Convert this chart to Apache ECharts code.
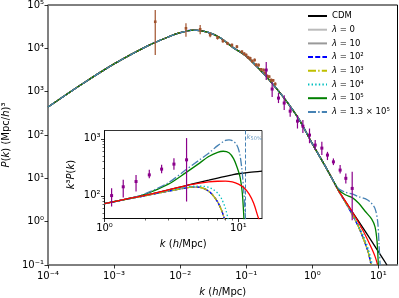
<!DOCTYPE html>
<html><head><meta charset="utf-8">
<script src="https://cdn.jsdelivr.net/npm/echarts@6/dist/echarts.min.js"></script>
<style>html,body{margin:0;padding:0;background:#fff}#c{width:399px;height:298px}</style>
</head><body><div id="c"></div>
<script>
const FONT = 'DejaVu Sans';
// ---------- main panel: P(k) ----------
const kMainCommon = [0.0001, 0.000316, 0.001, 0.00316, 0.00631, 0.01, 0.0158, 0.0251, 0.0398, 0.0631, 0.1, 0.158, 0.251, 0.398, 0.631, 1.0, 1.585, 2.0];
const pMainCommon = [442, 1445, 4365, 11220, 17780, 22910, 26300, 23990, 17780, 10470, 6610, 3310, 1514, 631, 229, 63.1, 18.6, 9.77];
const kTailCDM = [2.51, 3.98, 6.31, 10.0, 13.5];
const pTailCDM = [5.13, 1.74, 0.603, 0.204, 0.1];
const kTailRed = [2.51, 3.98, 5.01, 6.31, 7.94, 8.91, 9.77];
const pTailRed = [5.13, 1.74, 0.955, 0.501, 0.24, 0.158, 0.1];
const kTailLow = [2.51, 3.16, 3.98, 5.01, 6.31, 7.08, 7.76];
const pTailLow = [5.13, 2.82, 1.51, 0.759, 0.316, 0.19, 0.1];
const kTailL4 = [2.51, 3.16, 3.98, 5.01, 6.31, 7.24, 8.13];
const pTailL4 = [5.13, 2.85, 1.58, 0.832, 0.38, 0.2, 0.1];
const kTailL5 = [2.51, 3.16, 3.98, 5.01, 6.31, 7.94, 8.91, 9.55, 10.0];
const pTailL5 = [5.5, 4.17, 3.63, 2.69, 1.74, 1.15, 0.759, 0.355, 0.1];
const kTailL13 = [2.51, 3.16, 3.98, 5.01, 6.31, 7.59, 8.91, 9.77, 10.23, 10.64];
const pTailL13 = [5.75, 4.79, 4.37, 3.8, 3.39, 2.82, 2.0, 1.0, 0.316, 0.1];

// brown data points (k, P, low, high)
const brownK  = [0.0042, 0.01225, 0.0201, 0.0285, 0.0368, 0.0444, 0.0521, 0.0608, 0.0723, 0.0861, 0.0933, 0.1, 0.107, 0.115, 0.1233, 0.134, 0.1416, 0.154, 0.1687, 0.183, 0.1937, 0.208, 0.2228, 0.239, 0.2558, 0.275];
const brownP  = [41100, 28970, 27500, 20300, 17600, 14800, 13000, 11900, 10900, 8350, 7500, 7000, 6190, 5870, 5090, 5370, 4180, 4110, 3270, 3150, 2700, 2290, 2220, 1850, 1820, 1500];
const brownLo = [7000, 18500, 21000, 18100, 15900, 13500, 11900, 10900, 10000, 7700, 6900, 6450, 5700, 5400, 4680, 4950, 3850, 3780, 3010, 2900, 2480, 2100, 2040, 1700, 1670, 1370];
const brownHi = [76700, 37800, 34500, 22800, 19500, 16200, 14200, 13000, 11900, 9050, 8100, 7600, 6700, 6380, 5500, 5830, 4520, 4470, 3530, 3420, 2920, 2500, 2400, 2020, 1970, 1640];
// purple data points (k, P, low, high)
const purpK  = [0.201, 0.247, 0.308, 0.376, 0.463, 0.597, 0.721, 0.908, 1.107, 1.396, 1.698, 2.09, 2.64, 3.22, 4.02];
const purpP  = [3155, 1150, 711, 546, 355, 209, 160, 99.5, 58.5, 49.8, 34.4, 24.0, 15.5, 10.0, 5.85];
const purpLo = [1855, 750, 546, 376, 263, 141, 111, 64.6, 44.8, 34.4, 26.4, 20.2, 13.0, 7.62, 1.08];
const purpHi = [4830, 1660, 929, 832, 447, 288, 221, 141, 76.2, 69.7, 40.9, 28.8, 20.2, 13.0, 14.1];

// ---------- inset: k^3 P(k) ----------
const kInCDM = [1, 1.5, 2, 3, 4, 5, 6, 7, 8, 9, 10, 12, 15];
const yInCDM = [73, 89, 102, 127, 150, 170, 188, 205, 220, 233, 244, 258, 272];
const kInRed = [1, 1.5, 2, 3, 4, 5, 6, 7, 8, 9, 10, 11, 12, 13, 14, 14.3];
const yInRed = [73, 89, 102, 127, 150, 165, 175, 180, 181, 175, 160, 138, 108, 74, 43, 38];
const kInLow = [1, 1.5, 2, 3, 4, 4.5, 5, 5.5, 6, 6.5, 7, 7.5, 7.9];
const yInLow = [73, 88, 100, 121, 137, 142, 142, 135, 120, 100, 78, 55, 38];
const kInL4 = [1, 1.5, 2, 3, 4, 5, 5.5, 6, 6.5, 7, 7.5, 8, 8.4];
const yInL4 = [73, 88, 101, 123, 141, 148, 147, 141, 129, 111, 88, 60, 38];
const kInL5 = [1, 1.5, 2, 3, 4, 5, 6, 7, 7.7, 8.5, 9.2, 9.8, 10.3, 10.7, 11.0];
const yInL5 = [73, 89, 106, 160, 250, 360, 490, 580, 605, 570, 450, 310, 210, 110, 38];
const kInL13 = [1, 1.5, 2, 3, 4, 5, 6, 7, 8, 8.5, 9, 9.7, 10.2, 10.6, 11.0, 11.3];
const yInL13 = [73, 89, 108, 170, 280, 410, 560, 760, 940, 960, 930, 790, 560, 300, 110, 38];
const inPurpK  = [1.13, 1.38, 1.72, 2.16, 2.67, 3.30, 4.10];
const inPurpY  = [101, 144, 178, 233, 294, 360, 428];
const inPurpLo = [64.9, 93.4, 119, 204, 250, 286, 79.4];
const inPurpHi = [136, 191, 233, 286, 350, 458, 1030];
const k50 = 11.3;

// ---------- ticks ----------
const xTickVals = [1e-4, 1e-3, 1e-2, 1e-1, 1, 10];
const xTickLabels = ['10⁻⁴', '10⁻³', '10⁻²', '10⁻¹', '10⁰', '10¹'];
const yTickVals = [0.1, 1, 10, 100, 1000, 10000, 100000];
const yTickLabels = ['10⁻¹', '10⁰', '10¹', '10²', '10³', '10⁴', '10⁵'];
const inXTickVals = [1, 10];
const inXTickLabels = ['10⁰', '10¹'];
const inYTickVals = [100, 1000];
const inYTickLabels = ['10²', '10³'];
const inXMinor = [2, 3, 4, 5, 6, 7, 8, 9];
const inYMinor = [40, 50, 60, 70, 80, 90, 200, 300, 400, 500, 600, 700, 800, 900];

const legendNames = ['CDM', 'λ = 0', 'λ = 10', 'λ = 10²', 'λ = 10³', 'λ = 10⁴', 'λ = 10⁵', 'λ = 1.3 × 10⁵'];

function pairs(ks, ps) { return ks.map((k, i) => [k, ps[i]]); }
function joined(k1, p1, k2, p2) { return pairs(k1, p1).concat(pairs(k2, p2)); }
function lab(vals, labels, v) {
  for (let i = 0; i < vals.length; i++) {
    if (Math.abs(Math.log10(v) - Math.log10(vals[i])) < 1e-6) return labels[i];
  }
  return '';
}
const DASH = [5, 2.2], DASHDOT = [8, 2.2, 1.4, 2.2], DOT = [1.4, 2.2];
function line(name, data, color, type, gi, z) {
  return {
    type: 'line', name: name, data: data, xAxisIndex: gi, yAxisIndex: gi,
    symbol: 'none', showSymbol: false, smooth: 0.3, z: z,
    lineStyle: { color: color, width: 1.3, type: type },
    itemStyle: { color: color }, silent: true
  };
}
function errRender(color, r) {
  return function (params, api) {
    const k = api.value(0), p = api.value(1), lo = api.value(2), hi = api.value(3);
    const c = api.coord([k, p]), a = api.coord([k, lo]), b = api.coord([k, hi]);
    return {
      type: 'group', children: [
        { type: 'line', shape: { x1: a[0], y1: a[1], x2: b[0], y2: b[1] }, style: { stroke: color, lineWidth: 1.2 } },
        { type: 'rect', shape: { x: c[0] - r, y: c[1] - r, width: 2 * r, height: 2 * r }, style: { fill: color } }
      ]
    };
  };
}
function rows(a, b, c, d) { return a.map((v, i) => [v, b[i], c[i], d[i]]); }

const BROWN = '#a0522d', PURPLE = '#8b008b', STEEL = '#4682b4';
const nameRich = { i: { fontStyle: 'italic', fontFamily: FONT, fontSize: 10, color: '#000' } };

const series = [
  // main panel
  line('CDM', joined(kMainCommon, pMainCommon, kTailCDM, pTailCDM), '#000000', 'solid', 0, 2),
  line('λ = 0', joined(kMainCommon, pMainCommon, kTailLow, pTailLow), '#bbbbbb', 'solid', 0, 2),
  line('λ = 10', joined(kMainCommon, pMainCommon, kTailLow, pTailLow), '#999999', 'solid', 0, 2),
  line('λ = 10²', joined(kMainCommon, pMainCommon, kTailLow, pTailLow), '#0000ff', DASH, 0, 2),
  line('λ = 10³', joined(kMainCommon, pMainCommon, kTailLow, pTailLow), '#bfbf00', DASHDOT, 0, 2),
  line('λ = 10⁴', joined(kMainCommon, pMainCommon, kTailL4, pTailL4), '#00bfbf', DOT, 0, 2),
  line('red', joined(kMainCommon, pMainCommon, kTailRed, pTailRed), '#ff0000', 'solid', 0, 2),
  line('λ = 10⁵', joined(kMainCommon, pMainCommon, kTailL5, pTailL5), '#008000', 'solid', 0, 2),
  line('λ = 1.3 × 10⁵', joined(kMainCommon, pMainCommon, kTailL13, pTailL13), STEEL, DASHDOT, 0, 2),
  { type: 'custom', name: 'brown', xAxisIndex: 0, yAxisIndex: 0, z: 5, silent: true,
    data: rows(brownK, brownP, brownLo, brownHi), encode: { x: 0, y: 1 }, renderItem: errRender(BROWN, 1.3) },
  { type: 'custom', name: 'purple', xAxisIndex: 0, yAxisIndex: 0, z: 6, silent: true,
    data: rows(purpK, purpP, purpLo, purpHi), encode: { x: 0, y: 1 }, renderItem: errRender(PURPLE, 1.5) },
  // inset
  line('in-CDM', pairs(kInCDM, yInCDM), '#000000', 'solid', 1, 10),
  line('in-0', pairs(kInLow, yInLow), '#bbbbbb', 'solid', 1, 10),
  line('in-10', pairs(kInLow, yInLow), '#999999', 'solid', 1, 10),
  line('in-100', pairs(kInLow, yInLow), '#0000ff', DASH, 1, 10),
  line('in-1000', pairs(kInLow, yInLow), '#bfbf00', DASHDOT, 1, 10),
  line('in-1e4', pairs(kInL4, yInL4), '#00bfbf', DOT, 1, 10),
  line('in-1e5', pairs(kInL5, yInL5), '#008000', 'solid', 1, 10),
  line('in-1.3e5', pairs(kInL13, yInL13), STEEL, DASHDOT, 1, 10),
  line('in-red', pairs(kInRed, yInRed), '#ff0000', 'solid', 1, 11),
  { type: 'custom', name: 'in-purple', xAxisIndex: 1, yAxisIndex: 1, z: 12, silent: true,
    data: rows(inPurpK, inPurpY, inPurpLo, inPurpHi), encode: { x: 0, y: 1 }, renderItem: errRender(PURPLE, 1.5) },
  { type: 'scatter', name: 'k50', xAxisIndex: 1, yAxisIndex: 1, z: 12, silent: true,
    data: [[k50, 1080]], symbolSize: 0,
    label: { show: true, position: 'right', distance: 1, formatter: '{i|k}{s|50%}',
      rich: { i: { fontStyle: 'italic', fontSize: 7, fontFamily: FONT, color: STEEL },
              s: { fontSize: 5, fontFamily: FONT, color: STEEL, padding: [4, 0, 0, 0] } } },
    markLine: { symbol: 'none', silent: true, animation: false, label: { show: false },
      lineStyle: { color: STEEL, type: [4, 2], width: 1 }, data: [{ xAxis: k50 }] } }
];

const chart = echarts.init(document.getElementById('c'), null, { renderer: 'canvas' });
chart.setOption({
  animation: false,
  backgroundColor: '#ffffff',
  grid: [
    { left: 48, top: 5, right: 1.5, bottom: 33, show: true, borderColor: '#000', borderWidth: 1, backgroundColor: 'transparent', containLabel: false, outerBoundsMode: 'none' },
    { left: 104.5, top: 130.5, right: 137, bottom: 79.5, show: true, borderColor: '#000', borderWidth: 0.8, backgroundColor: '#ffffff', containLabel: false, outerBoundsMode: 'none' }
  ],
  legend: {
    data: legendNames, orient: 'vertical', left: 307, top: 10.5, padding: 0,
    itemWidth: 19, itemHeight: 8, itemGap: 2.7, selectedMode: false,
    itemStyle: { opacity: 0, borderWidth: 0 },
    lineStyle: { opacity: 1 },
    formatter: n => n.replace('λ', '{i|λ}'),
    textStyle: { fontSize: 8.5, fontFamily: FONT, color: '#000', lineHeight: 11,
      rich: { i: { fontStyle: 'italic', fontSize: 8.5, fontFamily: FONT, color: '#000', lineHeight: 11 } } }
  },
  xAxis: [
    { gridIndex: 0, type: 'log', logBase: 10, min: 1e-4, max: 19.5, position: 'bottom',
      axisLine: { show: true, lineStyle: { color: '#808080', width: 1.6 } },
      axisTick: { show: true, customValues: xTickVals, length: 3.5, lineStyle: { color: '#000', width: 0.8 } },
      axisLabel: { customValues: xTickVals, formatter: v => lab(xTickVals, xTickLabels, v), fontSize: 10, color: '#000', fontFamily: FONT, margin: 6 },
      splitLine: { show: false },
      name: '{i|k} ({i|h}/Mpc)', nameLocation: 'middle', nameGap: 22,
      nameTextStyle: { fontSize: 10, fontFamily: FONT, color: '#000', rich: nameRich } },
    { gridIndex: 1, type: 'log', logBase: 10, min: 1, max: 15, position: 'bottom',
      axisLine: { show: true, lineStyle: { color: '#000', width: 0.8 } },
      axisTick: { show: true, customValues: inXTickVals, length: 3.5, lineStyle: { color: '#000', width: 0.8 } },
      axisLabel: { customValues: inXTickVals, formatter: v => lab(inXTickVals, inXTickLabels, v), fontSize: 10, color: '#000', fontFamily: FONT, margin: 5 },
      splitLine: { show: false },
      name: '{i|k} ({i|h}/Mpc)', nameLocation: 'middle', nameGap: 21,
      nameTextStyle: { fontSize: 10, fontFamily: FONT, color: '#000', rich: nameRich } },
    { gridIndex: 1, type: 'log', logBase: 10, min: 1, max: 15, position: 'bottom',
      axisLine: { show: false },
      axisTick: { show: true, customValues: inXMinor, length: 2, lineStyle: { color: '#000', width: 0.6 } },
      axisLabel: { show: false }, splitLine: { show: false } }
  ],
  yAxis: [
    { gridIndex: 0, type: 'log', logBase: 10, min: 0.1, max: 1e5, position: 'left',
      axisLine: { show: true, lineStyle: { color: '#808080', width: 1.6 } },
      axisTick: { show: true, customValues: yTickVals, length: 3.5, lineStyle: { color: '#000', width: 0.8 } },
      axisLabel: { customValues: yTickVals, formatter: v => lab(yTickVals, yTickLabels, v), fontSize: 10, color: '#000', fontFamily: FONT, margin: 4 },
      splitLine: { show: false },
      name: '{i|P}({i|k}) (Mpc/{i|h})³', nameLocation: 'middle', nameGap: 34,
      nameTextStyle: { fontSize: 10, fontFamily: FONT, color: '#000', rich: nameRich } },
    { gridIndex: 1, type: 'log', logBase: 10, min: 40, max: 1400, position: 'left',
      axisLine: { show: true, lineStyle: { color: '#000', width: 0.8 } },
      axisTick: { show: true, customValues: inYTickVals, length: 3.5, lineStyle: { color: '#000', width: 0.8 } },
      axisLabel: { customValues: inYTickVals, formatter: v => lab(inYTickVals, inYTickLabels, v), fontSize: 10, color: '#000', fontFamily: FONT, margin: 4 },
      splitLine: { show: false },
      name: '{i|k}³{i|P}({i|k})', nameLocation: 'middle', nameGap: 28,
      nameTextStyle: { fontSize: 10, fontFamily: FONT, color: '#000', rich: nameRich } },
    { gridIndex: 1, type: 'log', logBase: 10, min: 40, max: 1400, position: 'left',
      axisLine: { show: false },
      axisTick: { show: true, customValues: inYMinor, length: 2, lineStyle: { color: '#000', width: 0.6 } },
      axisLabel: { show: false }, splitLine: { show: false } }
  ],
  series: series
});
</script></body></html>
